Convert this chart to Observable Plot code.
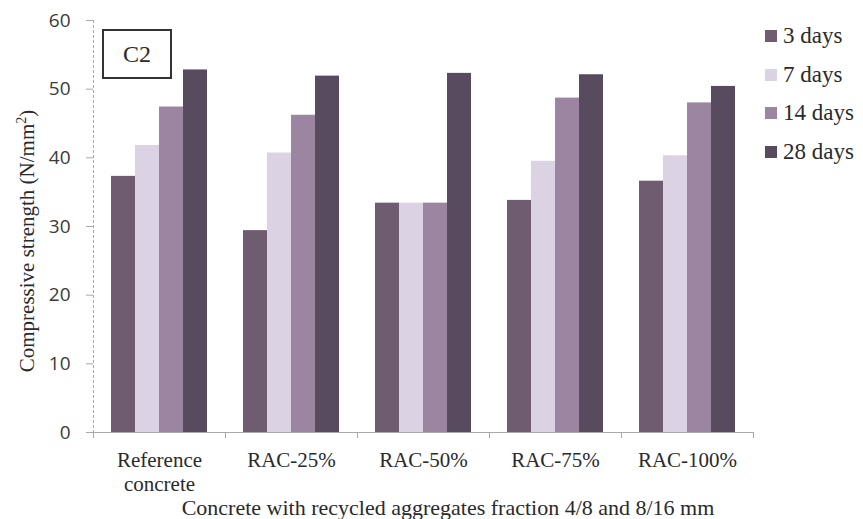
<!DOCTYPE html>
<html><head><meta charset="utf-8">
<script src="https://cdn.jsdelivr.net/npm/d3@7"></script>
<script src="https://cdn.jsdelivr.net/npm/@observablehq/plot@0.6"></script>
<style>
body{margin:0;background:#fff;}
#wrap{position:relative;width:863px;height:519px;font-family:"Liberation Serif","Times New Roman",serif;color:#2a2a2a;overflow:hidden;}
#wrap svg{position:absolute;left:0;top:0;}
.abs{position:absolute;white-space:nowrap;}
#ylabel{font-size:21px;left:27px;top:241px;transform:translate(-50%,-50%) rotate(-90deg);}
#ylabel sup{font-size:14px;vertical-align:8px;line-height:0;}
#title{font-size:22px;left:448px;top:497px;transform:translateX(-50%);line-height:22px;}
#c2{left:102px;top:29px;width:66px;height:46px;border:2px solid #333;font-size:24px;display:flex;align-items:center;justify-content:center;background:#fff;}
.leg{font-size:23px;left:765px;display:flex;align-items:center;line-height:24px;}
.leg span.sw{display:inline-block;width:12px;height:12px;margin-right:6px;}
</style></head><body><div id="wrap"></div>
<script>
const categories = ["Reference\nconcrete", "RAC-25%", "RAC-50%", "RAC-75%", "RAC-100%"];
const series = ["3 days", "7 days", "14 days", "28 days"];
const days3  = [37.3, 29.4, 33.4, 33.8, 36.6];
const days7  = [41.8, 40.7, 33.4, 39.5, 40.3];
const days14 = [47.4, 46.2, 33.4, 48.7, 48.0];
const days28 = [52.8, 51.9, 52.3, 52.1, 50.4];
const colors = ["#6f5c71", "#dbd3e3", "#9b85a1", "#584b60"];
const yTicks = [0, 10, 20, 30, 40, 50, 60];
const yLabel = "Compressive strength (N/mm";
const xTitle = "Concrete with recycled aggregates fraction 4/8 and 8/16 mm";
const panelLabel = "C2";

const seriesValues = [days3, days7, days14, days28];
const data = [];
categories.forEach((c, i) => seriesValues.forEach((arr, j) => data.push({category: c, series: series[j], value: arr[i]})));

const dims = {width: 863, height: 519, marginTop: 20, marginBottom: 87, marginLeft: 93, marginRight: 110};

const main = Plot.plot({
  ...dims,
  style: {background: "transparent", overflow: "visible"},
  fx: {domain: categories, padding: 0, label: null},
  x: {domain: series, paddingInner: 0, paddingOuter: 0.75, axis: null},
  y: {domain: [0, 60], axis: null},
  color: {domain: series, range: colors},
  marks: [
    Plot.barY(data, {fx: "category", x: "series", y: "value", fill: "series"}),
    Plot.axisFx({anchor: "bottom", tickSize: 0, tickPadding: 18, fontSize: 21, lineHeight: 1.12, fontFamily: "Liberation Serif", fill: "#2a2a2a", label: null})
  ]
});

const axes = Plot.plot({
  ...dims,
  style: {background: "transparent", overflow: "visible"},
  x: {domain: [0, categories.length], axis: null},
  y: {domain: [0, 60], axis: null},
  marks: [
    Plot.ruleX([0], {stroke: "#a8a8a8", strokeDasharray: "3,2"}),
    Plot.ruleY([0], {stroke: "#a8a8a8"}),
    Plot.axisX({ticks: d3.range(categories.length + 1), tickFormat: () => "", tickSize: 6, stroke: "#a8a8a8", label: null}),
    Plot.axisY({ticks: yTicks, tickSize: 7, tickPadding: 16, fontSize: 19, fontFamily: "Open Sans", stroke: "#a8a8a8", fill: "#3a3a3a", label: null})
  ]
});

const wrap = document.getElementById("wrap");
wrap.appendChild(main);
wrap.appendChild(axes);

const yl = document.createElement("div");
yl.id = "ylabel"; yl.className = "abs";
yl.innerHTML = yLabel + "<sup>2</sup>)";
wrap.appendChild(yl);

const t = document.createElement("div");
t.id = "title"; t.className = "abs"; t.textContent = xTitle;
wrap.appendChild(t);

const c2 = document.createElement("div");
c2.id = "c2"; c2.className = "abs"; c2.textContent = panelLabel;
wrap.appendChild(c2);

series.forEach((s, i) => {
  const d = document.createElement("div");
  d.className = "abs leg";
  d.style.top = (24 + i * 38.5) + "px";
  d.innerHTML = `<span class="sw" style="background:${colors[i]}"></span>${s}`;
  wrap.appendChild(d);
});
</script>
</body></html>
